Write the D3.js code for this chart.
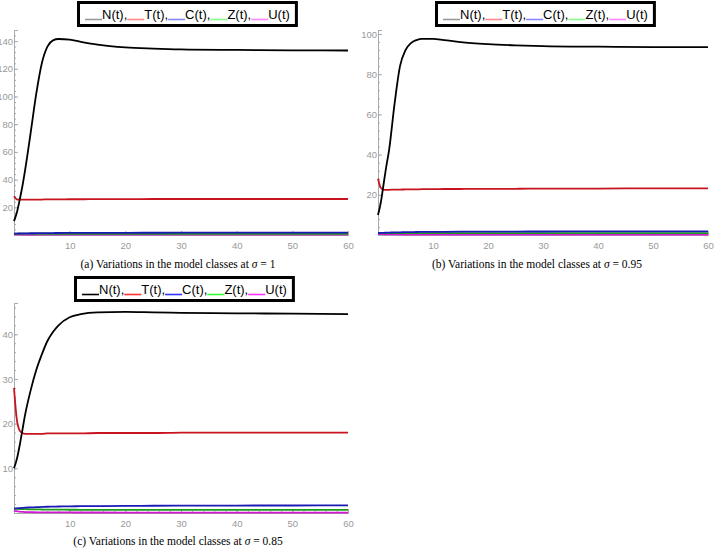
<!DOCTYPE html>
<html><head><meta charset="utf-8">
<script src="https://cdn.jsdelivr.net/npm/d3@7"></script>
<style>body{margin:0;background:#fff}</style>
</head><body>
<svg id="sketch"></svg>
<script>
// time points shared by all panels
var tVals = [0,0.5,1,1.5,2,3,4,5,6,7,8,10,12,15,20,25,30,40,50,60];

// sigma = 1
var nA = [10,16,25,35,47,74,102,124,136,140.5,141.5,141,139.5,137.5,135.5,134.6,134,133.6,133.3,133.2];
var tA = [28,25.8,25.5,25.5,25.5,25.6,25.6,25.6,25.7,25.7,25.7,25.8,25.8,25.9,25.9,26,26,26,26,26];
var cA = [1,1.05,1.1,1.15,1.2,1.25,1.3,1.35,1.4,1.42,1.45,1.5,1.52,1.55,1.6,1.62,1.65,1.67,1.68,1.7];
var zA = [1,0.98,0.96,0.95,0.94,0.93,0.92,0.92,0.91,0.91,0.9,0.9,0.9,0.9,0.9,0.9,0.9,0.9,0.9,0.9];
var uA = [0.5,0.45,0.4,0.35,0.3,0.28,0.26,0.25,0.24,0.24,0.23,0.23,0.22,0.22,0.22,0.2,0.2,0.2,0.2,0.2];

// sigma = 0.95
var nB = [10,16,25,34,42,65,84,92,95.5,97,97.6,97.6,97,96,95,94.4,94,93.7,93.5,93.5];
var tB = [28,23.5,22.6,22.5,22.5,22.6,22.6,22.7,22.7,22.7,22.8,22.8,22.9,22.9,23,23,23.1,23.1,23.2,23.2];
var cB = [1,1.05,1.1,1.15,1.2,1.3,1.35,1.4,1.45,1.5,1.52,1.55,1.6,1.65,1.7,1.72,1.75,1.77,1.78,1.8];
var zB = [1,0.98,0.96,0.95,0.94,0.93,0.92,0.92,0.91,0.91,0.9,0.9,0.9,0.9,0.9,0.9,0.9,0.9,0.9,0.9];
var uB = [0.5,0.45,0.4,0.35,0.3,0.28,0.26,0.25,0.24,0.24,0.23,0.23,0.22,0.22,0.22,0.2,0.2,0.2,0.2,0.2];

// sigma = 0.85
var nC = [10,12,15,18.5,22,27.5,32,35.5,38.5,40.5,42,43.8,44.5,44.9,45,44.9,44.8,44.7,44.6,44.5];
var tC = [28,21,18.5,17.9,17.7,17.7,17.7,17.7,17.8,17.8,17.8,17.8,17.8,17.9,17.9,17.9,18,18,18,18];
var cC = [1,1.05,1.1,1.15,1.2,1.25,1.3,1.35,1.4,1.42,1.45,1.5,1.52,1.55,1.6,1.62,1.65,1.67,1.68,1.7];
var zC = [1,0.95,0.9,0.87,0.85,0.82,0.8,0.78,0.76,0.75,0.74,0.73,0.72,0.71,0.7,0.7,0.7,0.7,0.7,0.7];
var uC = [0.5,0.4,0.3,0.25,0.2,0.18,0.16,0.15,0.14,0.13,0.12,0.12,0.11,0.11,0.1,0.1,0.1,0.1,0.1,0.1];

var legendNames = ['N(t)','T(t)','C(t)','Z(t)','U(t)'];
var lineColors = ['#000','#c8141e','#1a1ab4','#1a9e1a','#d21ad2'];
var paleColors = ['#999','#f88','#88f','#8f8','#f8f'];
var vividColors = ['#000','#f33','#33f','#3f3','#f3f'];

var svg = d3.select('#sketch').attr('width', 714).attr('height', 550);

function panel(p) {
    var g = svg.append('g');
    var x = d3.scaleLinear().domain([0, 60]).range([p.x0, p.x1]);
    var y = d3.scaleLinear().domain([0, p.ymax]).range([p.y0, p.y1]);

    // axes, Mathematica style
    g.append('g').attr('transform', 'translate(0,' + p.y0 + ')')
	.call(d3.axisBottom(x).tickValues([10,20,30,40,50,60]).tickSize(-4).tickPadding(7).tickFormat(d3.format('d')));
    g.append('g').attr('transform', 'translate(0,' + p.y0 + ')')
	.call(d3.axisBottom(x).tickValues(d3.range(2, 60, 2)).tickSize(-2).tickFormat(''));
    g.append('g').attr('transform', 'translate(' + p.x0 + ',0)')
	.call(d3.axisLeft(y).tickValues(p.yticks).tickSize(-4).tickPadding(1));
    g.append('g').attr('transform', 'translate(' + p.x0 + ',0)')
	.call(d3.axisLeft(y).tickValues(d3.range(0, p.ymax, p.minor)).tickSize(-2).tickFormat(''));
    g.selectAll('.domain, .tick line').attr('stroke', '#aaa');
    g.selectAll('.tick text').attr('fill', '#999').style('font-size', '9.5px').style('font-family', 'Liberation Sans');

    var line = d3.line().x(function(d, i){return x(tVals[i]);}).y(function(d){return y(d);}).curve(d3.curveMonotoneX);
    var series = [p.n, p.t, p.c, p.z, p.u];
    for (var k = series.length - 1; k >= 0; k--) {
	g.append('path').datum(series[k]).attr('d', line)
	    .attr('fill', 'none').attr('stroke', lineColors[k]).attr('stroke-width', 1.8);
    }

    // legend box
    var lg = svg.append('g').attr('transform', 'translate(' + p.lx + ',' + p.ly + ')');
    var box = lg.append('rect').attr('x', 1.5).attr('y', 1.5).attr('height', 23)
	.attr('fill', '#fff').attr('stroke', '#000').attr('stroke-width', 3);
    var cx = 8;
    legendNames.forEach(function(nm, i) {
	lg.append('line').attr('x1', cx).attr('x2', cx + 17).attr('y1', 18.5).attr('y2', 18.5)
	    .attr('stroke', p.legendColors[i]).attr('stroke-width', 1.6);
	var txt = lg.append('text').attr('x', cx + 17).attr('y', 18)
	    .text(nm + (i < 4 ? ',' : '')).style('font-size', '13px').style('font-family', 'Liberation Sans');
	cx += 17 + txt.node().getComputedTextLength();
    });
    box.attr('width', cx + 5);

    // caption
    var cap = svg.append('text').attr('x', p.capx).attr('y', p.capy).attr('text-anchor', 'middle')
	.style('font-size', '11.5px').style('font-family', "'Liberation Serif', 'DejaVu Serif', serif");
    cap.append('tspan').text(p.caption + ' ');
    cap.append('tspan').style('font-style', 'italic').text('σ');
    cap.append('tspan').text(' = ' + p.sigma);
}

panel({x0: 14, x1: 348, y0: 235, y1: 30, ymax: 148, yticks: [20,40,60,80,100,120,140], minor: 4,
       n: nA, t: tA, c: cA, z: zA, u: uA, lx: 77, ly: 1, legendColors: paleColors,
       capx: 178, capy: 268, caption: '(a) Variations in the model classes at', sigma: '1'});
panel({x0: 378, x1: 708, y0: 235, y1: 30, ymax: 102, yticks: [20,40,60,80,100], minor: 4,
       n: nB, t: tB, c: cB, z: zB, u: uB, lx: 435, ly: 1, legendColors: paleColors,
       capx: 537, capy: 268, caption: '(b) Variations in the model classes at', sigma: '0.95'});
panel({x0: 14, x1: 348, y0: 513, y1: 303, ymax: 47, yticks: [10,20,30,40], minor: 2,
       n: nC, t: tC, c: cC, z: zC, u: uC, lx: 74, ly: 276, legendColors: vividColors,
       capx: 178, capy: 545, caption: '(c) Variations in the model classes at', sigma: '0.85'});
</script>
</body></html>
